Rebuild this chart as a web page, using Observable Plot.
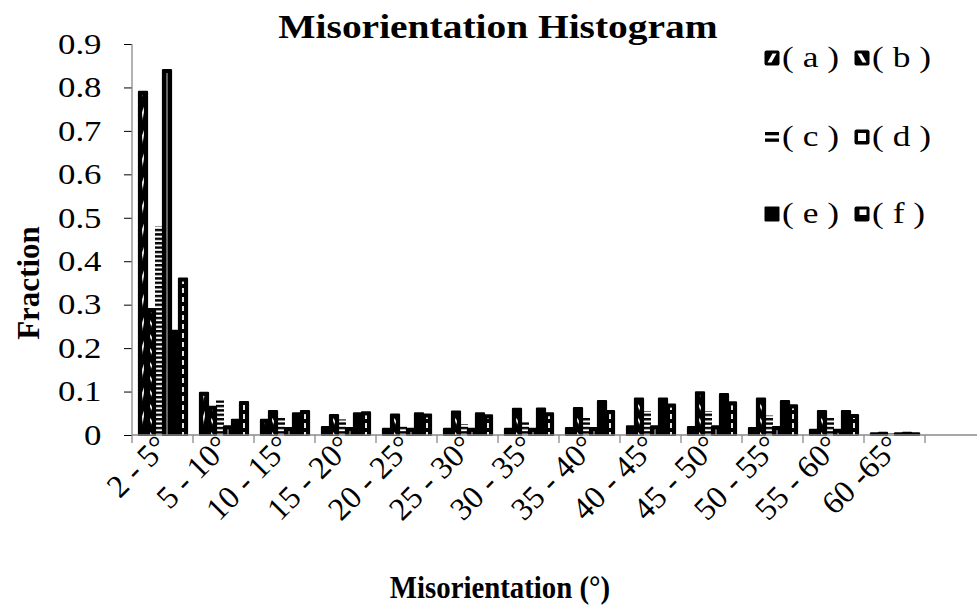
<!DOCTYPE html>
<html>
<head>
<meta charset="utf-8">
<script src="https://cdn.jsdelivr.net/npm/d3@7"></script>
<script src="https://cdn.jsdelivr.net/npm/@observablehq/plot@0.6"></script>
<style>
  body { margin: 0; background: #fff; }
  #wrap { position: relative; width: 977px; height: 613px; overflow: hidden; font-family: "Liberation Serif", "Times New Roman", serif; color: #000; }
  .ttl { position: absolute; font-weight: bold; white-space: nowrap; line-height: 1; }
  .leg { position: absolute; white-space: nowrap; font-size: 30px; line-height: 30px; }
  .leg svg { position: absolute; left: 0; top: 8px; }
  .leg span { position: absolute; left: 18px; top: 0; transform-origin: left center; transform: scaleX(1.18); }
  svg g[aria-label="fx-axis tick label"] text { font-size: 32px; }
  svg g[aria-label="y-axis tick"] { stroke: #8a8a8a; }
</style>
</head>
<body>
<div id="wrap"></div>
<script>
// ---------- data ----------
const categories = ["2 - 5°","5 - 10°","10 - 15°","15 - 20°","20 - 25°","25 - 30°","30 - 35°","35 - 40°","40 - 45°","45 - 50°","50 - 55°","55 - 60°","60 -65°"];
const seriesKeys = ["a","b","c","d","e","f"];
const seriesLabels = ["( a )","( b )","( c )","( d )","( e )","( f )"];
const valuesA = [0.79, 0.097, 0.035, 0.018, 0.014, 0.014, 0.014, 0.016, 0.02, 0.018, 0.016, 0.012, 0.004];
const valuesB = [0.29, 0.065, 0.055, 0.046, 0.047, 0.054, 0.060, 0.062, 0.084, 0.098, 0.084, 0.055, 0.005];
const valuesC = [0.48, 0.080, 0.042, 0.036, 0.022, 0.025, 0.030, 0.040, 0.055, 0.055, 0.045, 0.040, 0.004];
const valuesD = [0.84, 0.020, 0.016, 0.016, 0.014, 0.014, 0.014, 0.016, 0.020, 0.020, 0.018, 0.012, 0.004];
const valuesE = [0.24, 0.035, 0.050, 0.050, 0.050, 0.050, 0.061, 0.078, 0.084, 0.094, 0.078, 0.055, 0.005];
const valuesF = [0.36, 0.076, 0.055, 0.052, 0.047, 0.045, 0.050, 0.055, 0.070, 0.075, 0.068, 0.046, 0.004];
const yTicks = [0, 0.1, 0.2, 0.3, 0.4, 0.5, 0.6, 0.7, 0.8, 0.9];
const yTickLabels = ["0","0.1","0.2","0.3","0.4","0.5","0.6","0.7","0.8","0.9"];
const titleText = "Misorientation Histogram";
const xTitle = "Misorientation (°)";
const yTitle = "Fraction";

// ---------- table ----------
const seriesValues = [valuesA, valuesB, valuesC, valuesD, valuesE, valuesF];
const rows = [];
categories.forEach((c, i) => seriesKeys.forEach((k, j) => rows.push({cat: c, s: k, v: seriesValues[j][i]})));
const bySeries = k => rows.filter(r => r.s === k);
const common = {fx: "cat", x: "s", y: "v"};
const outline = {fill: "#000", stroke: "#000", strokeWidth: 2.2, strokeLinejoin: "round"};
const inner = {insetLeft: 3.1, insetRight: 3.1, insetTop: 3};

const plot = Plot.plot({
  width: 977, height: 613,
  marginTop: 44, marginBottom: 178, marginLeft: 128, marginRight: 49,
  style: {fontFamily: '"Liberation Serif", "Times New Roman", serif', fontSize: "29px", color: "#000", background: "#fff", overflow: "visible"},
  fx: {domain: categories, padding: 0, axis: "bottom", label: null, tickRotate: -45, tickSize: 0, tickPadding: 6},
  x: {domain: seriesKeys, paddingInner: 0, paddingOuter: 0.5, axis: null},
  y: {domain: [0, 0.9], ticks: yTicks, tickFormat: d => yTickLabels[yTicks.indexOf(d)], tickSize: 8, tickPadding: 23, label: null},
  marks: [
    Plot.barY(bySeries("a"), {...common, ...outline}),
    Plot.barY(bySeries("a"), {...common, ...inner, fill: "url(#stripeA)"}),
    Plot.barY(bySeries("b"), {...common, ...outline}),
    Plot.barY(bySeries("b"), {...common, ...inner, fill: "url(#stripeB)"}),
    Plot.barY(bySeries("c"), {...common, fill: "url(#hstripe)"}),
    Plot.barY(bySeries("d"), {...common, ...outline}),
    Plot.barY(bySeries("d"), {...common, ...inner, insetLeft: 3.6, insetRight: 3.6, fill: "#fff"}),
    Plot.barY(bySeries("e"), {...common, ...outline}),
    Plot.barY(bySeries("f"), {...common, ...outline}),
    Plot.barY(bySeries("f"), {...common, ...inner, fill: "url(#dashW)"})
  ]
});

// ---------- patterns ----------
const svg = d3.select(plot);
const defs = svg.insert("defs", ":first-child");
function stripes(id, angle, color, period, thick) {
  const p = defs.append("pattern").attr("id", id).attr("patternUnits", "userSpaceOnUse")
    .attr("width", period).attr("height", period).attr("patternTransform", `rotate(${angle})`);
  p.append("rect").attr("x", 0).attr("y", 0).attr("width", period).attr("height", thick).attr("fill", color);
}
stripes("stripeA", -70, "#fff", 8, 2.4);
stripes("stripeB", 55, "#fff", 8, 2.2);
stripes("hstripe", 0, "#000", 4.4, 2.4);
{
  const p = defs.append("pattern").attr("id", "dashW").attr("patternUnits", "userSpaceOnUse").attr("width", 6).attr("height", 9);
  p.append("rect").attr("x", 0).attr("y", 0).attr("width", 6).attr("height", 5).attr("fill", "#fff");
}

// ---------- axis lines & band ticks via the scales ----------
const fxS = plot.scale("fx"), yS = plot.scale("y");
const y0 = yS.apply(0), yTop = yS.apply(0.9);
const edges = categories.map(c => fxS.apply(c));
edges.push(fxS.apply(categories[categories.length - 1]) + fxS.bandwidth);
const ax = svg.append("g").attr("stroke", "#8a8a8a").attr("stroke-width", 1.3);
ax.append("line").attr("x1", edges[0]).attr("x2", 977).attr("y1", y0).attr("y2", y0);
ax.append("line").attr("x1", edges[0]).attr("x2", edges[0]).attr("y1", yTop).attr("y2", y0);
edges.forEach(e => ax.append("line").attr("x1", e).attr("x2", e).attr("y1", y0).attr("y2", y0 + 8));

// horizontal stretch of the y tick labels (the reference is slightly widened)
svg.selectAll('g[aria-label="y-axis tick label"] text').each(function() {
  const t = this.getAttribute("transform") || "";
  this.setAttribute("transform", t + " scale(1.2,1)");
});

// ---------- page ----------
const wrap = document.getElementById("wrap");
wrap.appendChild(plot);

function addText(cls, text, css) {
  const d = document.createElement("div");
  d.className = cls; d.textContent = text;
  Object.assign(d.style, css);
  wrap.appendChild(d);
  return d;
}
addText("ttl", titleText, {left: "498px", top: "10px", fontSize: "34px", transform: "translateX(-50%) scaleX(1.16)"});
addText("ttl", xTitle, {left: "500px", top: "571px", fontSize: "32px", transform: "translateX(-50%) scaleX(0.9)"});
addText("ttl", yTitle, {left: "28px", top: "283px", fontSize: "31px", transform: "translate(-50%,-50%) rotate(-90deg)"});

// legend
const swatch = {
  a: '<rect x="0.5" y="0.5" width="15" height="15" rx="2" fill="#000"/><polygon points="3.5,12.5 7.5,12.5 12.5,3.5 8.5,3.5" fill="#fff"/>',
  b: '<rect x="0.5" y="0.5" width="15" height="15" rx="2" fill="#000"/><polygon points="3.5,3.5 7.5,3.5 12.5,12.5 8.5,12.5" fill="#fff"/>',
  c: '<rect x="1" y="3" width="14" height="3.3" fill="#000"/><rect x="1" y="9.5" width="14" height="3.3" fill="#000"/>',
  d: '<rect x="0.5" y="0.5" width="15" height="15" rx="2" fill="#000"/><rect x="4" y="4" width="8" height="8" fill="#fff"/>',
  e: '<rect x="0.5" y="0.5" width="15" height="15" rx="1" fill="#000"/>',
  f: '<rect x="0.5" y="0.5" width="15" height="15" rx="2" fill="#000"/><rect x="5.5" y="3.5" width="7" height="5.5" fill="#fff"/>'
};
const legX = [764, 854], legY = [42, 121, 198];
seriesKeys.forEach((k, i) => {
  const d = document.createElement("div");
  d.className = "leg";
  d.style.left = legX[i % 2] + "px";
  d.style.top = legY[Math.floor(i / 2)] + "px";
  d.innerHTML = `<svg width="16" height="16" viewBox="0 0 16 16">${swatch[k]}</svg>`;
  const s = document.createElement("span");
  s.textContent = seriesLabels[i];
  d.appendChild(s);
  wrap.appendChild(d);
});
</script>
</body>
</html>
